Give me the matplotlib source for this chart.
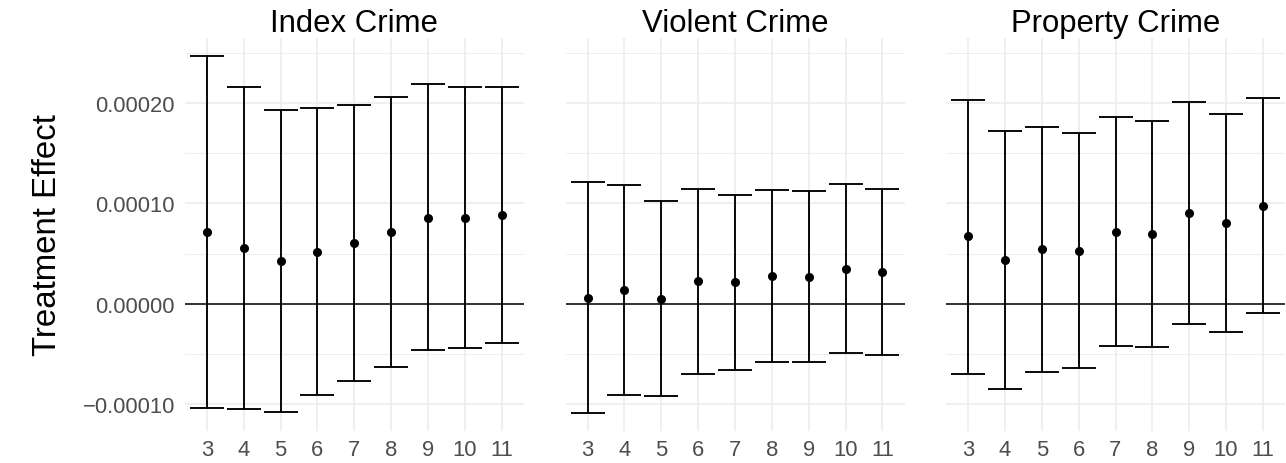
import matplotlib
matplotlib.use("Agg")
import matplotlib.pyplot as plt
from matplotlib.ticker import FuncFormatter, MultipleLocator
import numpy as np

plt.rcParams['font.family'] = ['Liberation Sans', 'DejaVu Sans']

# bandwidths on the x axis
bandwidth = [3, 4, 5, 6, 7, 8, 9, 10, 11]
panel_titles = ["Index Crime", "Violent Crime", "Property Crime"]

# point estimates and confidence bounds
index_est = [0.0000715, 0.0000559, 0.0000425, 0.0000519, 0.0000602, 0.0000715, 0.0000858, 0.0000858, 0.0000884]
index_hi = [0.000247, 0.0002166, 0.0001936, 0.0001952, 0.0001982, 0.0002062, 0.0002192, 0.0002166, 0.0002166]
index_lo = [-0.0001038, -0.0001048, -0.0001082, -0.0000908, -0.0000775, -0.0000636, -0.0000466, -0.0000443, -0.0000396]

violent_est = [0.0000059, 0.0000133, 0.0000049, 0.0000222, 0.0000212, 0.0000272, 0.0000269, 0.0000349, 0.0000315]
violent_hi = [0.0001214, 0.0001184, 0.0001024, 0.0001144, 0.0001087, 0.0001134, 0.000112, 0.000119, 0.0001147]
violent_lo = [-0.0001095, -0.0000912, -0.0000922, -0.0000699, -0.0000659, -0.0000586, -0.0000579, -0.0000493, -0.0000513]

property_est = [0.0000672, 0.0000435, 0.0000542, 0.0000528, 0.0000718, 0.0000692, 0.0000904, 0.0000804, 0.0000977]
property_hi = [0.0002032, 0.0001726, 0.0001766, 0.00017, 0.0001862, 0.0001819, 0.0002012, 0.0001892, 0.000205]
property_lo = [-0.0000699, -0.0000852, -0.0000683, -0.0000643, -0.0000426, -0.0000436, -0.0000204, -0.0000283, -0.0000094]

estimates = [index_est, violent_est, property_est]
upper = [index_hi, violent_hi, property_hi]
lower = [index_lo, violent_lo, property_lo]

W, H = 1286, 464
fig = plt.figure(figsize=(W / 100, H / 100), dpi=100)
lefts = [184.7, 565.5, 946.0]
pw = 339.0
top, bottom = 39.0, 432.0

def fmt(v, pos):
    s = "%.5f" % v
    if v < -1e-12:
        s = "\u2212" + s[1:]
    elif abs(v) < 1e-12:
        s = "0.00000"
    return s

for i in range(3):
    ax = fig.add_axes([lefts[i] / W, 1 - bottom / H, pw / W, (bottom - top) / H])
    x = np.array(bandwidth)
    est = np.array(estimates[i])
    hi = np.array(upper[i])
    lo = np.array(lower[i])
    ax.axhline(0, color="black", lw=1.1, zorder=2)
    ax.errorbar(x, est, yerr=[est - lo, hi - est], fmt="o", color="black",
                ms=5.5, elinewidth=1.35, capsize=11.9, capthick=1.35, zorder=3)
    ax.set_xlim(2.4, 11.6)
    ax.set_ylim(-0.000127, 0.000265)
    ax.set_xticks(bandwidth)
    ax.yaxis.set_major_locator(MultipleLocator(0.0001))
    ax.yaxis.set_minor_locator(MultipleLocator(0.00005))
    ax.yaxis.set_major_formatter(FuncFormatter(fmt))
    ax.grid(True, which="major", color="#EBEBEB", lw=1.1, zorder=0)
    ax.grid(True, which="minor", axis="y", color="#EBEBEB", lw=0.6, zorder=0)
    ax.set_axisbelow(True)
    for sp in ax.spines.values():
        sp.set_visible(False)
    ax.tick_params(which="both", length=0)
    ax.tick_params(axis="x", labelsize=15.8, labelcolor="#4D4D4D", pad=6)
    ax.tick_params(axis="y", labelsize=15.8, labelcolor="#4D4D4D", pad=7)
    ax.set_title(panel_titles[i], fontsize=22.4, pad=5)
    if i == 0:
        ax.set_ylabel("Treatment Effect", fontsize=23.8, labelpad=14)
    else:
        ax.set_yticklabels([])

fig.savefig("out.png", dpi=100)
